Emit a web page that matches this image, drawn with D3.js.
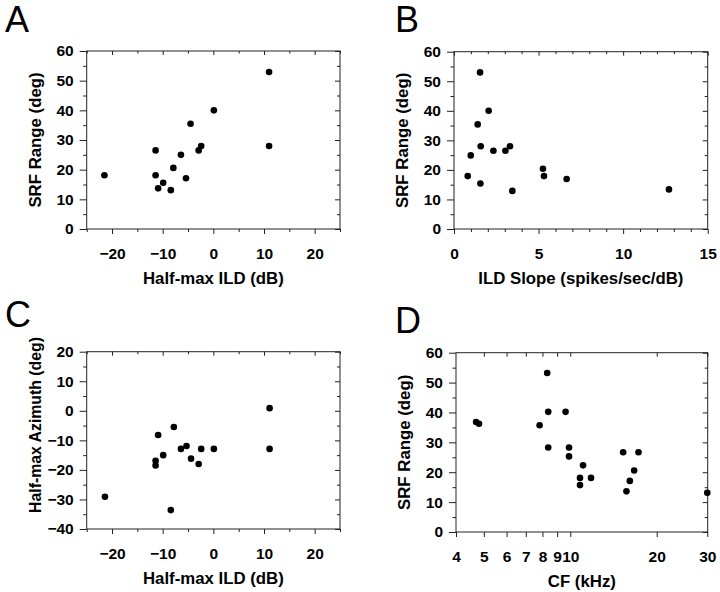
<!DOCTYPE html>
<html><head><meta charset="utf-8">
<script src="https://cdn.jsdelivr.net/npm/d3@7"></script>
<style>
body{margin:0;background:#fff;}
text{font-family:"Liberation Sans",Arial,sans-serif;}
</style></head>
<body>
<script>
// ---- Data ----
// Panel A: Half-max ILD (dB) vs SRF Range (deg)
const ildA = [-21.5,-11.4,-11.4,-10.9,-9.9,-8.4,-7.9,-6.4,-5.4,-4.5,-2.9,-2.4,0.1,11.0,11.0];
const srfA = [18.1,26.5,18.1,13.7,15.6,13.1,20.6,25.0,17.1,35.5,26.5,28.0,40.0,52.9,28.0];
// Panel B: ILD slope (spikes/sec/dB) vs SRF Range (deg)
const slopeB = [0.81,0.99,1.40,1.54,1.58,1.56,2.05,2.33,3.04,3.31,3.45,5.26,5.32,6.66,12.71];
const srfB = [17.9,24.9,35.4,53.0,28.0,15.4,40.0,26.5,26.5,28.0,12.9,20.4,17.9,16.9,13.4];
// Panel C: Half-max ILD (dB) vs Half-max azimuth (deg)
const ildC = [-21.4,-11.4,-11.4,-10.9,-9.9,-8.4,-7.8,-6.4,-5.3,-4.4,-2.9,-2.4,0.1,11.1,11.1];
const aziC = [-29.1,-16.9,-18.5,-8.2,-15.0,-33.6,-5.5,-12.9,-11.9,-16.2,-18.0,-12.9,-12.9,0.9,-12.9];
// Panel D: CF (kHz) vs SRF Range (deg)
const cfD = [4.70,4.81,7.82,8.31,8.38,8.38,9.63,9.90,9.90,11.08,10.81,10.81,11.81,15.28,17.28,16.69,16.12,15.69,30.0];
const srfD = [36.8,36.2,35.7,53.2,40.2,28.3,40.2,28.3,25.3,22.3,18.1,15.7,18.1,26.7,26.7,20.6,17.1,13.6,13.1];

// Tick labels
const ticksILD = [-20,-10,0,10,20];
const minorILD = [-25,-15,-5,5,15,25];
const ticksSRF = [0,10,20,30,40,50,60];
const minorSRF = [5,15,25,35,45,55];
const ticksSlope = [0,5,10,15];
const minorSlope = [1,2,3,4,6,7,8,9,11,12,13,14];
const ticksAzi = [-40,-30,-20,-10,0,10,20];
const minorAzi = [-35,-25,-15,-5,5,15];
const ticksCF = [4,5,6,7,8,9,10,20,30];
const minorCF = [];

const svg = d3.select("body").append("svg").attr("width",720).attr("height",592);

function panel(o){
  const g = svg.append("g");
  const x = o.xScale, y = o.yScale;
  const [x0,x1] = x.range(), [y0,y1] = y.range(); // y0 bottom, y1 top
  const fmt = d3.format("d");
  const styleAxis = sel => {
    sel.select(".domain").remove();
    sel.selectAll("line").attr("stroke","#222").attr("stroke-width",1);
    sel.selectAll("text").attr("font-size",15.5).attr("font-weight","bold").attr("fill","#000")
       .attr("font-family","Liberation Sans, Arial, sans-serif");
  };
  // bottom major
  g.append("g").attr("transform",`translate(0,${y0})`)
    .call(d3.axisBottom(x).tickValues(o.xTicks).tickSize(5).tickPadding(14).tickFormat(fmt)).call(styleAxis);
  g.append("g").attr("transform",`translate(0,${y0})`)
    .call(d3.axisBottom(x).tickValues(o.xMinor).tickSize(3).tickFormat("")).call(styleAxis);
  // top inward
  g.append("g").attr("transform",`translate(0,${y1})`)
    .call(d3.axisBottom(x).tickValues(o.xTopTicks||o.xTicks).tickSize(4).tickFormat("")).call(styleAxis);
  g.append("g").attr("transform",`translate(0,${y1})`)
    .call(d3.axisBottom(x).tickValues(o.xMinor).tickSize(2.5).tickFormat("")).call(styleAxis);
  // left major outward
  g.append("g").attr("transform",`translate(${x0},0)`)
    .call(d3.axisLeft(y).tickValues(o.yTicks).tickSize(7).tickPadding(6).tickFormat(fmt)).call(styleAxis);
  g.append("g").attr("transform",`translate(${x0},0)`)
    .call(d3.axisLeft(y).tickValues(o.yMinor).tickSize(3.5).tickFormat("")).call(styleAxis);
  // right inward
  g.append("g").attr("transform",`translate(${x1},0)`)
    .call(d3.axisRight(y).tickValues(o.yTicks).tickSize(-5).tickFormat("")).call(styleAxis);
  g.append("g").attr("transform",`translate(${x1},0)`)
    .call(d3.axisRight(y).tickValues(o.yMinor).tickSize(-3).tickFormat("")).call(styleAxis);
  // frame
  g.append("rect").attr("x",x0).attr("y",y1).attr("width",x1-x0).attr("height",y0-y1)
    .attr("fill","none").attr("stroke","#222").attr("stroke-width",1);
  // points
  g.selectAll("circle.pt").data(o.xs.map((v,i)=>[v,o.ys[i]])).join("circle")
    .attr("class","pt").attr("cx",d=>x(d[0])).attr("cy",d=>y(d[1])).attr("r",3.3).attr("fill","#000");
  // titles
  g.append("text").attr("x",(x0+x1)/2).attr("y",y0+55).attr("text-anchor","middle")
    .attr("font-size",16.8).attr("font-weight","bold").text(o.xTitle);
  const ty = o.yTitleY!==undefined ? o.yTitleY : (y0+y1)/2;
  g.append("text").attr("transform",`translate(${x0-46},${ty}) rotate(-90)`).attr("text-anchor","middle")
    .attr("font-size",o.yTitleSize||16.8).attr("font-weight","bold").text(o.yTitle);
  // panel letter
  g.append("text").attr("x",o.lx).attr("y",o.ly).attr("font-size",36).text(o.letter);
}

panel({
  xScale:d3.scaleLinear().domain([-25,25]).range([86.7,340]),
  yScale:d3.scaleLinear().domain([0,60]).range([229,51]),
  xTicks:ticksILD,xMinor:minorILD,yTicks:ticksSRF,yMinor:minorSRF,
  xs:ildA,ys:srfA,xTitle:"Half-max ILD (dB)",yTitle:"SRF Range (deg)",letter:"A",lx:5,ly:32
});
panel({
  xScale:d3.scaleLinear().domain([0,15]).range([454,707.7]),
  yScale:d3.scaleLinear().domain([0,60]).range([229,51.7]),
  xTicks:ticksSlope,xMinor:minorSlope,yTicks:ticksSRF,yMinor:minorSRF,
  xs:slopeB,ys:srfB,xTitle:"ILD Slope (spikes/sec/dB)",yTitle:"SRF Range (deg)",letter:"B",lx:395,ly:32
});
panel({
  xScale:d3.scaleLinear().domain([-25,25]).range([86.7,340]),
  yScale:d3.scaleLinear().domain([-40,20]).range([529,351.7]),
  xTicks:ticksILD,xMinor:minorILD,yTicks:ticksAzi,yMinor:minorAzi,
  xs:ildC,ys:aziC,xTitle:"Half-max ILD (dB)",yTitle:"Half-max Azimuth (deg)",yTitleY:425,yTitleSize:15.8,letter:"C",lx:5,ly:327
});
panel({
  xScale:d3.scaleLog().domain([4,30.1]).range([456,707.7]),
  yScale:d3.scaleLinear().domain([0,60]).range([532,352.7]),
  xTicks:ticksCF,xMinor:minorCF,xTopTicks:ticksCF.slice(1),yTicks:ticksSRF,yMinor:minorSRF,
  xs:cfD,ys:srfD,xTitle:"CF (kHz)",yTitle:"SRF Range (deg)",letter:"D",lx:395,ly:333
});
</script>
</body></html>
